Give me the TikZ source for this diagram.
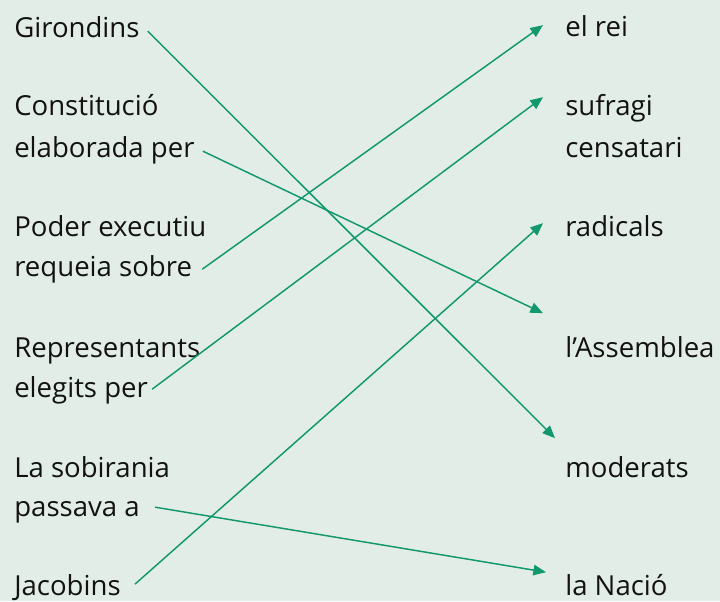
\documentclass[tikz,border=0pt]{standalone}
\usepackage{fontspec}
\setmainfont{Open Sans}
\usepackage{xcolor}
\usepackage{tikz}
\usetikzlibrary{arrows.meta}
\usetikzlibrary{positioning}
\definecolor{paper}{RGB}{227,237,231}
\definecolor{linkgreen}{RGB}{18,152,110}
\definecolor{ink}{RGB}{18,18,18}
\tikzstyle{every node} = [inner sep=0]

\begin{document}
\begin{tikzpicture}[x=0.025cm, y=-0.025cm,
    word/.style={anchor=base west, text=ink, text height=14pt, text depth=0pt, font=\fontsize{19.6}{30}\selectfont},
    link/.style={draw=linkgreen, line width=1.05pt, -{Triangle[length=9pt, width=7.5pt]}}]
            % background
            \fill[paper] (0,0) rectangle (720,601);
            \useasboundingbox (0,0) rectangle (720,601);

            % Left column
            \node[word] (gir) at (14,37) {Girondins};
            \node[word] (consta) at (14,115) {Constitució};
            \node[word] (const) at (14,157) {elaborada per};
            \node[word] (podera) at (14,236) {Poder executiu};
            \node[word] (poder) at (14,276) {requeia sobre};
            \node[word] (repra) at (14,357) {Representants};
            \node[word] (repr) at (14,397) {elegits per};
            \node[word] (sobra) at (14,477) {La sobirania};
            \node[word] (sobr) at (14,516) {passava a};
            \node[word] (jac) at (14,595) {Jacobins};

            % Right column
            \node[word] (rei) at (565,36) {el rei};
            \node[word] (sufr) at (565,115) {sufragi};
            \node[word] (sufrb) at (565,157) {censatari};
            \node[word] (rad) at (565,236) {radicals};
            \node[word] (assem) at (565,357) {l’Assemblea};
            \node[word] (mod) at (565,477) {moderats};
            \node[word] (nacio) at (565,595) {la Nació};

            % Connections
            \draw[link] ([shift={(8,4)}]gir.east) -- ([shift={(-10,-29)}]mod.west);
            \draw[link] ([shift={(8,4)}]const.east) -- ([shift={(-22,-34)}]assem.west);
            \draw[link] ([shift={(10,3)}]poder.east) -- ([shift={(-22,-1)}]rei.west);
            \draw[link] ([shift={(4,2)}]repr.east) -- ([shift={(-22,-8)}]sufr.west);
            \draw[link] ([shift={(15,1)}]sobr.east) -- ([shift={(-19,-13)}]nacio.west);
            \draw[link] ([shift={(14,-1)}]jac.east) -- ([shift={(-22,-3)}]rad.west);
        \end{tikzpicture}
\end{document}
